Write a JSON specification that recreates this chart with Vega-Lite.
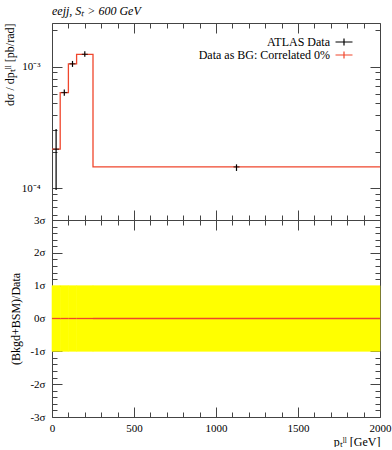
{
  "$schema": "https://vega.github.io/schema/vega-lite/v6.json",
  "padding": {"left": 3, "top": 4, "right": 12, "bottom": 0},
  "title": {"text": "eejj, Sₜ > 600 GeV", "anchor": "start", "frame": "group", "font": "Liberation Serif", "fontSize": 12, "fontStyle": "italic", "fontWeight": "normal", "color": "black", "offset": 5},
  "datasets": {
    "bins": [
      {"xlo": 0, "xhi": 50, "x": 25, "y": 0.00021, "ylo": 0.000097, "yhi": 0.000308},
      {"xlo": 50, "xhi": 100, "x": 75, "y": 0.000615, "ylo": 0.000578, "yhi": 0.000652},
      {"xlo": 100, "xhi": 150, "x": 125, "y": 0.00106, "ylo": 0.001, "yhi": 0.00112},
      {"xlo": 150, "xhi": 250, "x": 200, "y": 0.00127, "ylo": 0.00121, "yhi": 0.001346},
      {"xlo": 250, "xhi": 2000, "x": 1125, "y": 0.00015, "ylo": 0.000139, "yhi": 0.0001575}
    ],
    "ratio": [
      {"xlo": 0, "xhi": 50, "dev": 0, "lo": -1, "hi": 1},
      {"xlo": 50, "xhi": 100, "dev": 0, "lo": -1, "hi": 1},
      {"xlo": 100, "xhi": 150, "dev": 0, "lo": -1, "hi": 1},
      {"xlo": 150, "xhi": 250, "dev": 0, "lo": -1, "hi": 1},
      {"xlo": 250, "xhi": 2000, "dev": 0, "lo": -1, "hi": 1}
    ]
  },
  "spacing": 0,
  "bounds": "flush",
  "resolve": {"scale": {"x": "independent", "y": "independent"}, "legend": {"color": "independent"}},
  "vconcat": [
    {
      "width": 328,
      "height": 197,
      "resolve": {"axis": {"x": "independent", "y": "independent"}},
      "layer": [
        {
          "data": {"name": "bins"},
          "transform": [{"fold": ["xlo", "xhi"], "as": ["edge", "xe"]}],
          "mark": {"type": "line", "strokeWidth": 1.3},
          "encoding": {
            "x": {"field": "xe", "type": "quantitative", "scale": {"domain": [0, 2000], "nice": false, "zero": false},
              "axis": {"orient": "bottom", "values": [0,100,200,300,400,500,600,700,800,900,1000,1100,1200,1300,1400,1500,1600,1700,1800,1900,2000], "labels": false, "title": null,
                "tickSize": {"condition": {"test": "datum.value % 500 === 0", "value": -10}, "value": -5}}},
            "y": {"field": "y", "type": "quantitative", "scale": {"type": "log", "domain": [0.0000548, 0.0023], "nice": false},
              "axis": {"orient": "left", "values": [0.00006,0.00007,0.00008,0.00009,0.0001,0.0002,0.0003,0.0004,0.0005,0.0006,0.0007,0.0008,0.0009,0.001,0.002],
                "labelExpr": "datum.value === 0.001 ? '10⁻³' : (datum.value === 0.0001 ? '10⁻⁴' : '')",
                "labelPadding": 22,
                "tickSize": {"condition": {"test": "datum.value === 0.001 || datum.value === 0.0001", "value": -10}, "value": -5},
                "title": "dσ / dpₜˡˡ [pb/rad]", "titleAnchor": "end", "titlePadding": 5}},
            "order": [{"field": "xe"}, {"field": "edge"}],
            "color": {"datum": "Data as BG: Correlated 0%", "type": "nominal",
              "scale": {"domain": ["ATLAS Data", "Data as BG: Correlated 0%"], "range": ["#000000", "#f0462c"]},
              "legend": {"orient": "none", "legendX": 286, "legendY": 13, "title": null, "symbolType": "M-2,0H2M0,-0.8V0.8", "symbolSize": 72, "symbolStrokeWidth": 1.2, "labelAlign": "right", "labelOffset": -20, "labelFontSize": 12, "labelFont": "Liberation Serif", "labelColor": "black", "rowPadding": 1, "padding": 0}}
          }
        },
        {
          "data": {"name": "bins"},
          "mark": {"type": "rule", "strokeWidth": 1.2},
          "encoding": {
            "x": {"field": "x", "type": "quantitative",
              "axis": {"orient": "top", "values": [0,100,200,300,400,500,600,700,800,900,1000,1100,1200,1300,1400,1500,1600,1700,1800,1900,2000], "labels": false, "title": null,
                "tickSize": {"condition": {"test": "datum.value % 500 === 0", "value": -10}, "value": -5}}},
            "y": {"field": "ylo", "type": "quantitative",
              "axis": {"orient": "right", "values": [0.00006,0.00007,0.00008,0.00009,0.0001,0.0002,0.0003,0.0004,0.0005,0.0006,0.0007,0.0008,0.0009,0.001,0.002], "labels": false, "title": null,
                "tickSize": {"condition": {"test": "datum.value === 0.001 || datum.value === 0.0001", "value": -10}, "value": -5}}},
            "y2": {"field": "yhi"},
            "color": {"datum": "ATLAS Data", "type": "nominal"}
          }
        },
        {
          "data": {"name": "bins"},
          "mark": {"type": "tick", "orient": "horizontal", "size": 6, "thickness": 1.2, "color": "black"},
          "encoding": {
            "x": {"field": "x", "type": "quantitative", "axis": null},
            "y": {"field": "y", "type": "quantitative", "axis": null}
          }
        }
      ]
    },
    {
      "width": 328,
      "height": 197,
      "data": {"name": "ratio"},
      "resolve": {"axis": {"x": "independent", "y": "independent"}},
      "layer": [
        {
          "mark": {"type": "rect", "color": "#ffff00", "stroke": "#ffff00", "strokeWidth": 0.6},
          "encoding": {
            "x": {"field": "xlo", "type": "quantitative", "scale": {"domain": [0, 2000], "nice": false, "zero": false},
              "axis": {"orient": "bottom", "values": [0,100,200,300,400,500,600,700,800,900,1000,1100,1200,1300,1400,1500,1600,1700,1800,1900,2000],
                "format": "d", "labelExpr": "datum.value % 500 === 0 ? datum.label : ''", "labelPadding": 15,
                "tickSize": {"condition": {"test": "datum.value % 500 === 0", "value": -10}, "value": -5},
                "title": "pₜˡˡ [GeV]", "titleAnchor": "end", "titlePadding": -2}},
            "x2": {"field": "xhi"},
            "y": {"field": "lo", "type": "quantitative", "scale": {"domain": [-3, 3], "nice": false, "zero": false},
              "axis": {"orient": "left", "values": [-3,-2.8,-2.6,-2.4,-2.2,-2,-1.8,-1.6,-1.4,-1.2,-1,-0.8,-0.6,-0.4,-0.2,0,0.2,0.4,0.6,0.8,1,1.2,1.4,1.6,1.8,2,2.2,2.4,2.6,2.8,3],
                "labelExpr": "abs(datum.value - round(datum.value)) < 0.000001 ? round(datum.value) + 'σ' : ''", "labelPadding": 17,
                "tickSize": {"condition": {"test": "abs(datum.value - round(datum.value)) < 0.000001", "value": -10}, "value": -5},
                "title": "(Bkgd+BSM)/Data", "titlePadding": 7}},
            "y2": {"field": "hi"}
          }
        },
        {
          "mark": {"type": "rule", "color": "#f0462c", "strokeWidth": 1.3},
          "encoding": {
            "x": {"field": "xlo", "type": "quantitative",
              "axis": {"orient": "top", "values": [0,100,200,300,400,500,600,700,800,900,1000,1100,1200,1300,1400,1500,1600,1700,1800,1900,2000], "labels": false, "title": null,
                "tickSize": {"condition": {"test": "datum.value % 500 === 0", "value": -10}, "value": -5}}},
            "x2": {"field": "xhi"},
            "y": {"field": "dev", "type": "quantitative",
              "axis": {"orient": "right", "values": [-3,-2.8,-2.6,-2.4,-2.2,-2,-1.8,-1.6,-1.4,-1.2,-1,-0.8,-0.6,-0.4,-0.2,0,0.2,0.4,0.6,0.8,1,1.2,1.4,1.6,1.8,2,2.2,2.4,2.6,2.8,3], "labels": false, "title": null,
                "tickSize": {"condition": {"test": "abs(datum.value - round(datum.value)) < 0.000001", "value": -10}, "value": -5}}}
          }
        }
      ]
    }
  ],
  "config": {
    "font": "Liberation Serif",
    "view": {"stroke": null},
    "axis": {"grid": false, "domainColor": "#444", "tickColor": "#444", "domainWidth": 1, "tickWidth": 1,
      "labelFont": "Liberation Serif", "labelFontSize": 11, "labelColor": "black", "labelFlush": false, "labelOverlap": false,
      "titleFont": "Liberation Serif", "titleFontSize": 12, "titleFontWeight": "normal", "titleColor": "black"}
  }
}
